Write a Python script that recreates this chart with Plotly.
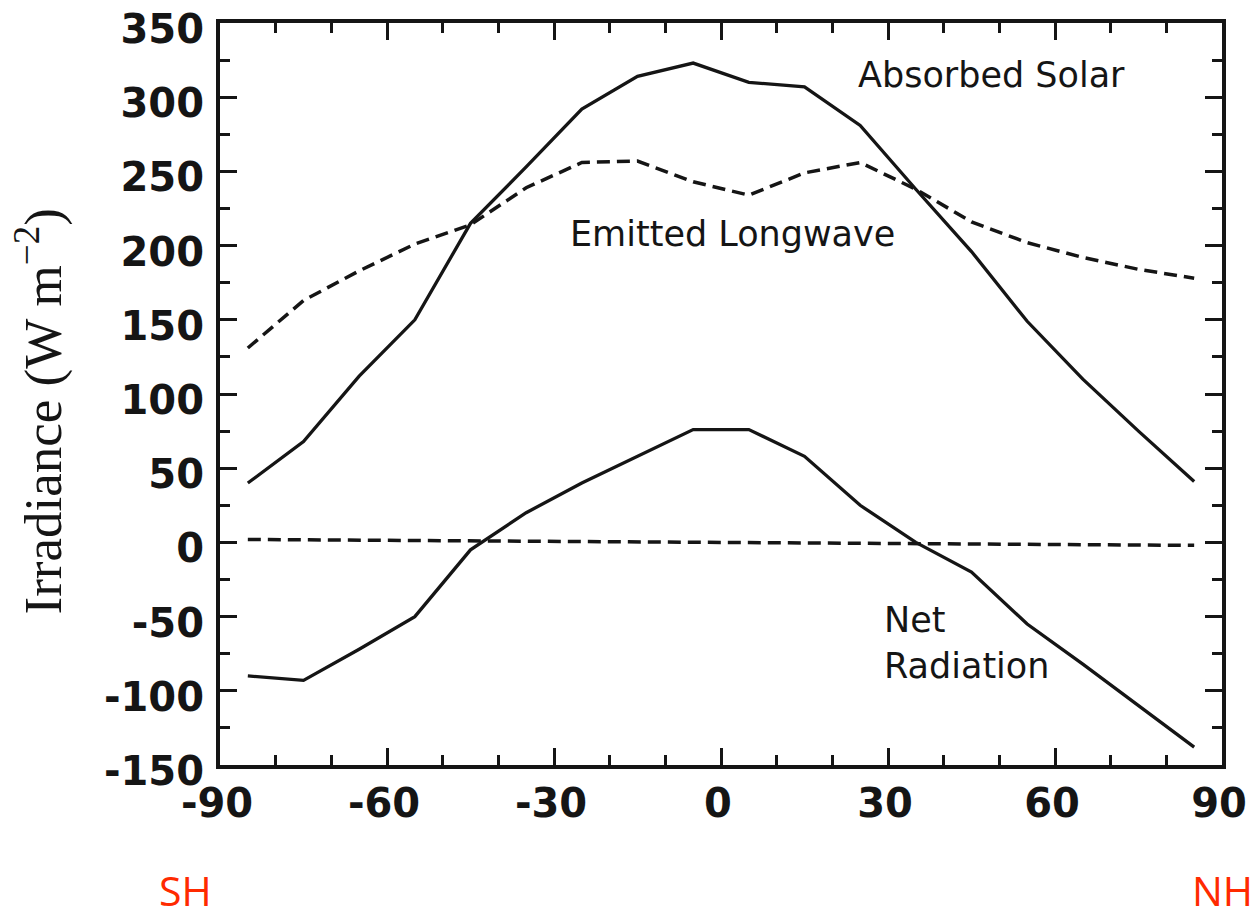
import plotly.graph_objects as go

# Latitude bands (degrees)
lat = [-85, -75, -65, -55, -45, -35, -25, -15, -5, 5, 15, 25, 35, 45, 55, 65, 75, 85]

# Absorbed solar radiation (W m^-2)
absorbed_solar = [40, 68, 112, 150, 215, 253, 292, 314, 323, 310, 307, 281, 238, 196, 149, 110, 75, 41]

# Emitted longwave radiation (W m^-2)
emitted_longwave = [131, 163, 183, 201, 214, 239, 256, 257, 243, 234, 249, 256, 238, 216, 202, 192, 184, 178]

# Net radiation (W m^-2)
net_radiation = [-90, -93, -72, -50, -5, 20, 40, 58, 76, 76, 58, 25, 0, -20, -55, -82, -110, -138]

# Zero reference line
zero_lat = [-85, 85]
zero_val = [2, -2]

x_ticks = [-90, -60, -30, 0, 30, 60, 90]
y_ticks = [-150, -100, -50, 0, 50, 100, 150, 200, 250, 300, 350]

ink = "#151515"

fig = go.Figure()
fig.add_trace(go.Scatter(x=zero_lat, y=zero_val, mode="lines",
                         line=dict(color=ink, width=3.5, dash="13px,7px"),
                         showlegend=False, hoverinfo="skip"))
fig.add_trace(go.Scatter(x=lat, y=emitted_longwave, mode="lines", name="Emitted Longwave",
                         line=dict(color=ink, width=3.5, dash="13px,7px"), showlegend=False))
fig.add_trace(go.Scatter(x=lat, y=absorbed_solar, mode="lines", name="Absorbed Solar",
                         line=dict(color=ink, width=3.3), showlegend=False))
fig.add_trace(go.Scatter(x=lat, y=net_radiation, mode="lines", name="Net Radiation",
                         line=dict(color=ink, width=3.3), showlegend=False))

label_font = dict(family="DejaVu Sans, Arial, sans-serif", size=35, color=ink)
fig.add_annotation(x=48.6, y=315, text="Absorbed Solar", showarrow=False, font=label_font)
fig.add_annotation(x=2, y=208, text="Emitted Longwave", showarrow=False, font=label_font)
fig.add_annotation(x=29.0, y=-68, text="Net<br>Radiation", showarrow=False, font=label_font,
                   xanchor="left", align="left")

red = "#ff2a00"
hem_font = dict(family="Open Sans, Lato, sans-serif", size=41, color=red)
fig.add_annotation(xref="paper", yref="paper", x=-0.034, y=-0.168, text="SH", showarrow=False,
                   xanchor="center", yanchor="middle", font=hem_font)
fig.add_annotation(xref="paper", yref="paper", x=1.0, y=-0.168, text="NH", showarrow=False,
                   xanchor="center", yanchor="middle", font=hem_font)

fig.add_annotation(xref="paper", yref="paper", x=-0.18, y=0.476, text="Irradiance (W m<sup>\u22122</sup>)",
                   showarrow=False, textangle=-90, xanchor="center", yanchor="middle",
                   font=dict(family="Liberation Serif, Times New Roman, serif", size=53, color=ink))

tick_font = dict(family="DejaVu Sans, Arial, sans-serif", size=40, color=ink, weight="bold")

fig.update_xaxes(range=[-90, 90], tickvals=x_ticks, ticktext=[str(v) for v in x_ticks],
                 ticks="inside", ticklen=17, tickwidth=3, tickcolor=ink, automargin=False,
                 minor=dict(dtick=10, tick0=0, ticks="inside", ticklen=10, tickwidth=3, tickcolor=ink),
                 showline=True, linewidth=4, linecolor=ink, mirror="ticks",
                 showgrid=False, zeroline=False, tickfont=tick_font, ticklabelstandoff=0,
                 ticklabelshift=-3, ticklabeloverflow="allow")
fig.update_yaxes(range=[-150, 350], tickvals=y_ticks, ticktext=[str(v) for v in y_ticks],
                 ticks="inside", ticklen=17, tickwidth=3, tickcolor=ink, automargin=False,
                 minor=dict(dtick=25, tick0=0, ticks="inside", ticklen=10, tickwidth=3, tickcolor=ink),
                 showline=True, linewidth=4, linecolor=ink, mirror="ticks",
                 showgrid=False, zeroline=False, tickfont=tick_font, ticklabelstandoff=4,
                 ticklabelshift=6, ticklabeloverflow="allow")

# the page adds an 8px body margin, so the figure is sized/offset to compensate
fig.update_layout(width=1251, height=907, margin=dict(l=212, r=37, t=15, b=150),
                  paper_bgcolor="white", plot_bgcolor="white", showlegend=False)

fig.write_html("out.html")
